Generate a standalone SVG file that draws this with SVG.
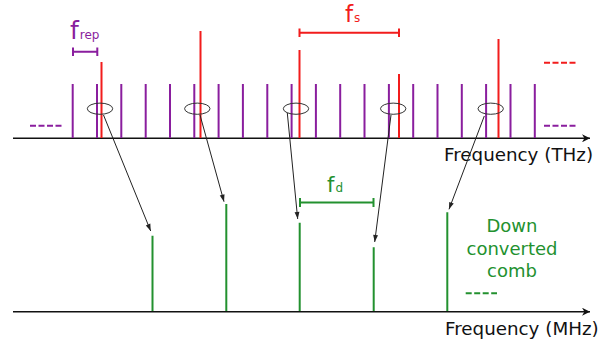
<svg xmlns="http://www.w3.org/2000/svg" width="604" height="340" viewBox="0 0 604 340">
<defs>
<marker id="ah" viewBox="0 0 10 10" refX="10" refY="5" markerWidth="9" markerHeight="7" markerUnits="userSpaceOnUse" orient="auto">
<path d="M0,1.5 L10,5 L0,8.5 z" fill="#222"/>
</marker>
<marker id="axh" viewBox="0 0 10 10" refX="10" refY="5" markerWidth="14" markerHeight="8" markerUnits="userSpaceOnUse" orient="auto">
<path d="M0,0 L10,5 L0,10 L3,5 z" fill="#111"/>
</marker>
<style>
.ax{stroke:#111;stroke-width:1.6;fill:none}
.pu{stroke:#8a1e9e;stroke-width:2;fill:none}
.re{stroke:#f21c1c;stroke-width:2;fill:none}
.gr{stroke:#23912f;stroke-width:2;fill:none}
.el{stroke:#333;stroke-width:1;fill:none}
.cn{stroke:#222;stroke-width:1;fill:none}
.t{font-family:"DejaVu Sans",sans-serif}
</style>
</defs>
<g id="axis-thz">
<line class="ax" x1="13" y1="138.3" x2="590" y2="138.3" marker-end="url(#axh)"/>
<text class="t" x="444" y="160.5" font-size="18.3" fill="#111">Frequency (THz)</text>
</g>
<g id="axis-mhz">
<line class="ax" x1="13" y1="311.7" x2="590" y2="311.7" marker-end="url(#axh)"/>
<text class="t" x="445" y="335" font-size="18.3" fill="#111">Frequency (MHz)</text>
</g>
<g id="comb-purple">
<path class="pu" d="M72.7,84V138 M97,84V138 M121.3,84V138 M145.7,84V138 M170,84V138 M194.3,84V138 M218.6,84V138 M242.9,84V138 M267.3,84V138 M291.6,84V138 M315.9,84V138 M340.2,84V138 M364.5,84V138 M388.9,84V138 M413.2,84V138 M437.5,84V138 M461.8,84V138 M486.1,84V138 M510.5,84V138 M534.8,84V138"/>
<path class="pu" d="M30,125.7H62 M544,125.7H576" stroke-dasharray="6,2.5"/>
</g>
<g id="comb-red">
<path class="re" d="M101.5,62V138 M200.5,31V138 M299.5,50V138 M399,74V138 M498.5,39V138"/>
<path class="re" d="M544,62.7H576" stroke-dasharray="6,2.5"/>
</g>
<g id="label-frep">
<text class="t" x="70" y="39" font-size="25" fill="#8a1e9e">f<tspan font-size="12" dx="1">rep</tspan></text>
<path class="pu" d="M73,51.7H97.3 M73,47.5V56 M97.3,47.5V56" stroke-width="1.8"/>
</g>
<g id="label-fs">
<text class="t" x="345" y="22" font-size="23" fill="#f21c1c">f<tspan font-size="12" dx="1">s</tspan></text>
<path class="re" d="M299.5,32.7H399 M299.5,28.5V37 M399,28.5V37" stroke-width="1.8"/>
</g>
<g id="ellipses">
<ellipse class="el" cx="100" cy="108.7" rx="12.7" ry="5.6"/>
<ellipse class="el" cx="197.3" cy="108.7" rx="12.7" ry="5.6"/>
<ellipse class="el" cx="296" cy="108.7" rx="12.7" ry="5.6"/>
<ellipse class="el" cx="393.2" cy="108.7" rx="12.7" ry="5.6"/>
<ellipse class="el" cx="490.7" cy="108.7" rx="12.7" ry="5.6"/>
</g>
<g id="comb-green">
<path class="gr" d="M152.5,235.7V311 M226.3,204V311 M299.7,222.7V311 M373.7,247.3V311 M447.3,212.3V311"/>
<path class="gr" d="M465.7,293.3H497" stroke-dasharray="6,2.5"/>
</g>
<g id="label-fd">
<text class="t" x="327" y="191.7" font-size="21" fill="#23912f">f<tspan font-size="12" dx="1">d</tspan></text>
<path class="gr" d="M300,202.5H373.5 M300,198V207 M373.5,198V207" stroke-width="1.8"/>
</g>
<g id="label-down">
<text class="t" font-size="18" fill="#23912f" text-anchor="middle"><tspan x="512" y="232.3">Down</tspan><tspan x="512" y="254.5">converted</tspan><tspan x="512" y="276.7">comb</tspan></text>
</g>
<g id="connectors">
<line class="cn" x1="103.5" y1="115" x2="150.7" y2="231" marker-end="url(#ah)"/>
<line class="cn" x1="200" y1="115" x2="224" y2="201.7" marker-end="url(#ah)"/>
<line class="cn" x1="287.3" y1="113" x2="297.7" y2="219" marker-end="url(#ah)"/>
<line class="cn" x1="391" y1="115" x2="374.7" y2="242" marker-end="url(#ah)"/>
<line class="cn" x1="484.3" y1="116" x2="449" y2="209.3" marker-end="url(#ah)"/>
</g>
</svg>
